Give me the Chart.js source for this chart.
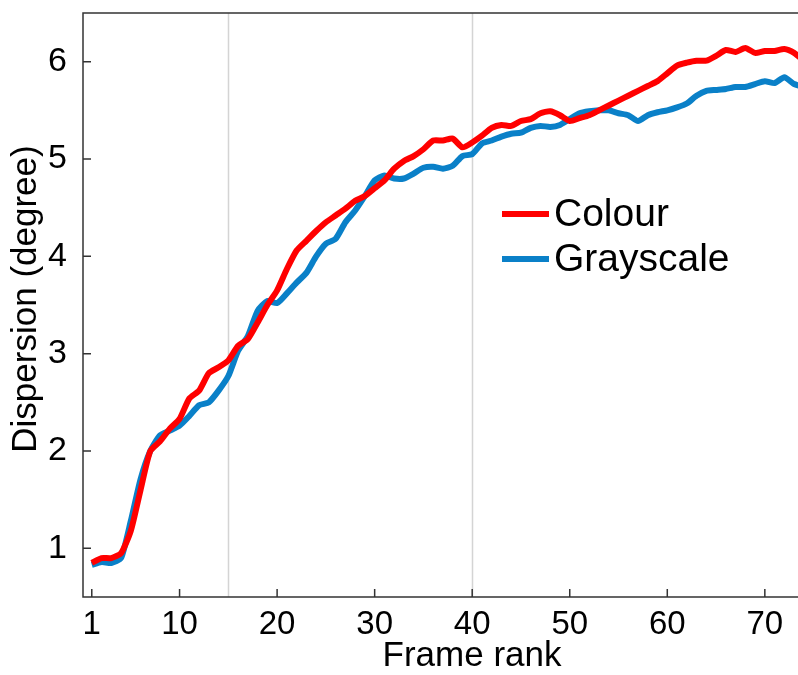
<!DOCTYPE html>
<html>
<head>
<meta charset="utf-8">
<script src="https://cdn.jsdelivr.net/npm/chart.js@4.4.1/dist/chart.umd.min.js"></script>
<style>
  html, body { margin: 0; padding: 0; background: #fff; }
  #wrap { width: 798px; height: 675px; }
</style>
</head>
<body>
<div id="wrap"><canvas id="dispChart" width="798" height="675"></canvas></div>
<script>
// frame rank 1..74
const frameRank = [];
for (let i = 1; i <= 74; i++) frameRank.push(i);

const colourVals = [
  0.85, 0.90, 0.90, 0.95, 1.18, 1.60, 2.00, 2.10, 2.23, 2.33,
  2.54, 2.62, 2.80, 2.86, 2.93, 3.08, 3.15, 3.32, 3.50, 3.65,
  3.87, 4.06, 4.16, 4.26, 4.35, 4.42, 4.49, 4.57, 4.62, 4.70,
  4.78, 4.90, 4.98, 5.03, 5.10, 5.19, 5.19, 5.21, 5.12, 5.17,
  5.24, 5.32, 5.35, 5.34, 5.39, 5.41, 5.47, 5.49, 5.45, 5.39,
  5.42, 5.45, 5.50, 5.55, 5.60, 5.65, 5.70, 5.75, 5.80, 5.88,
  5.96, 5.99, 6.01, 6.01, 6.06, 6.12, 6.10, 6.14, 6.09, 6.11,
  6.11, 6.13, 6.09, 6.01
];

const grayVals = [
  0.83, 0.86, 0.85, 0.90, 1.28, 1.71, 2.00, 2.16, 2.21, 2.26,
  2.36, 2.47, 2.50, 2.62, 2.77, 3.03, 3.18, 3.44, 3.54, 3.52,
  3.62, 3.73, 3.83, 4.00, 4.13, 4.18, 4.35, 4.47, 4.62, 4.78,
  4.83, 4.80, 4.80, 4.85, 4.91, 4.92, 4.90, 4.93, 5.03, 5.05,
  5.16, 5.19, 5.23, 5.26, 5.27, 5.32, 5.34, 5.33, 5.35, 5.41,
  5.47, 5.49, 5.50, 5.50, 5.47, 5.45, 5.39, 5.45, 5.48, 5.50,
  5.53, 5.57, 5.65, 5.70, 5.71, 5.72, 5.74, 5.74, 5.77, 5.80,
  5.78, 5.84, 5.77, 5.74
];

const xTicks = [1, 10, 20, 30, 40, 50, 60, 70];
const yTicks = [1, 2, 3, 4, 5, 6];
const markerLines = [15, 40];

const seriesNames = ['Colour', 'Grayscale'];
const seriesColors = ['#ff0000', '#0a80c8'];

const FONT = '"Liberation Sans", Arial, sans-serif';

function toPoints(vals) {
    return vals.map((v, i) => ({ x: frameRank[i], y: v }));
}

// grey vertical lines, frame, inward ticks, axis titles, legend
const decorations = {
    id: 'decorations',
    beforeDatasetsDraw(chart) {
        const { ctx, chartArea, scales } = chart;
        ctx.save();
        ctx.strokeStyle = '#d4d4d4';
        ctx.lineWidth = 1.5;
        markerLines.forEach(v => {
            const px = Math.round(scales.x.getPixelForValue(v)) + 0.5;
            ctx.beginPath();
            ctx.moveTo(px, chartArea.top);
            ctx.lineTo(px, chartArea.bottom);
            ctx.stroke();
        });
        ctx.restore();
    },
    afterDraw(chart) {
        const { ctx, chartArea, scales } = chart;
        const { left, top, right, bottom } = chartArea;
        ctx.save();
        ctx.strokeStyle = '#333333';
        ctx.lineWidth = 1.5;
        ctx.beginPath();
        ctx.moveTo(right + 2, top);
        ctx.lineTo(left, top);
        ctx.lineTo(left, bottom);
        ctx.lineTo(right + 2, bottom);
        ctx.stroke();

        // inward tick marks
        ctx.beginPath();
        yTicks.forEach(v => {
            const py = scales.y.getPixelForValue(v);
            ctx.moveTo(left, py);
            ctx.lineTo(left + 8, py);
        });
        xTicks.forEach(v => {
            const px = scales.x.getPixelForValue(v);
            ctx.moveTo(px, bottom);
            ctx.lineTo(px, bottom - 8);
        });
        ctx.stroke();

        // axis titles
        ctx.fillStyle = '#000';
        ctx.font = '35px ' + FONT;
        ctx.textAlign = 'center';
        ctx.textBaseline = 'middle';
        ctx.fillText('Frame rank', 472, 656);
        ctx.save();
        ctx.translate(26, 299);
        ctx.rotate(-Math.PI / 2);
        ctx.fillText('Dispersion (degree)', 0, 0);
        ctx.restore();

        // legend
        const legendY = [214, 259];
        ctx.lineWidth = 6;
        ctx.font = '39px ' + FONT;
        ctx.textAlign = 'left';
        seriesNames.forEach((name, i) => {
            ctx.strokeStyle = seriesColors[i];
            ctx.beginPath();
            ctx.moveTo(502, legendY[i]);
            ctx.lineTo(549, legendY[i]);
            ctx.stroke();
            ctx.fillText(name, 554, legendY[i] + 1);
        });
        ctx.restore();
    }
};

const ctx = document.getElementById('dispChart').getContext('2d');
const dispChart = new Chart(ctx, {
    type: 'line',
    data: {
        datasets: [
            {
                label: seriesNames[0],
                data: toPoints(colourVals),
                borderColor: seriesColors[0],
                borderWidth: 6,
                pointRadius: 0,
                tension: 0.2,
                order: 1
            },
            {
                label: seriesNames[1],
                data: toPoints(grayVals),
                borderColor: seriesColors[1],
                borderWidth: 6,
                pointRadius: 0,
                tension: 0.2,
                order: 2
            }
        ]
    },
    options: {
        responsive: false,
        animation: false,
        devicePixelRatio: 1,
        layout: { padding: { top: 13, right: 0, left: 0, bottom: 0 } },
        plugins: {
            legend: { display: false },
            tooltip: { enabled: false }
        },
        scales: {
            x: {
                type: 'linear',
                min: 0.1,
                max: 73.4,
                afterBuildTicks: s => { s.ticks = xTicks.map(v => ({ value: v })); },
                afterFit: s => { s.height = 78; s.paddingLeft = 0; s.paddingRight = 0; },
                grid: { display: false },
                border: { display: false },
                ticks: {
                    color: '#000',
                    font: { family: FONT, size: 33 },
                    padding: 0,
                    maxRotation: 0,
                    autoSkip: false
                }
            },
            y: {
                min: 0.5,
                max: 6.5,
                afterBuildTicks: s => { s.ticks = yTicks.map(v => ({ value: v })); },
                afterFit: s => { s.width = 83; s.paddingTop = 0; s.paddingBottom = 0; },
                grid: { display: false },
                border: { display: false },
                ticks: {
                    color: '#000',
                    font: { family: FONT, size: 34 },
                    padding: 8
                }
            }
        }
    },
    plugins: [decorations]
});
</script>
</body>
</html>
